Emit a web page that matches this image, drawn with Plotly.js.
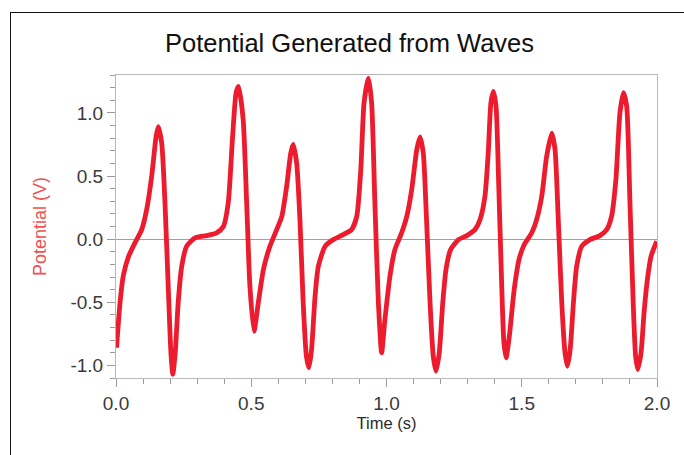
<!DOCTYPE html>
<html>
<head>
<meta charset="utf-8">
<script src="https://cdn.plot.ly/plotly-3.0.1.min.js"></script>
<style>
  html, body { margin:0; padding:0; width:684px; height:455px; overflow:hidden; background:#fff; }
  #chart { width:684px; height:455px; }
  #frame { position:absolute; left:10px; top:12px; width:720px; height:500px; border-left:1.5px solid #111; border-top:1.5px solid #111; pointer-events:none; }
</style>
</head>
<body>
<div id="chart"></div>
<div id="frame"></div>
<script>
// Time (s)
const time = [
  0.002, 0.015, 0.027, 0.046, 0.070, 0.095, 0.113, 0.132, 0.148, 0.156, 0.169, 0.181, 0.193, 0.203, 0.210,
  0.219, 0.230, 0.243, 0.261, 0.292, 0.335, 0.372, 0.397, 0.415, 0.431, 0.444, 0.453,
  0.470, 0.483, 0.495, 0.510, 0.526, 0.545, 0.569, 0.594, 0.613, 0.631, 0.646, 0.655,
  0.668, 0.680, 0.692, 0.704, 0.713, 0.723, 0.736, 0.748, 0.773, 0.803, 0.840, 0.871,
  0.890, 0.905, 0.917, 0.933, 0.945, 0.957, 0.970, 0.982,
  0.994, 1.013, 1.031, 1.056, 1.075, 1.093, 1.112, 1.124, 1.136, 1.148, 1.161, 1.173, 1.183,
  1.195, 1.208, 1.220, 1.237, 1.266, 1.297, 1.327, 1.346, 1.364, 1.376, 1.386, 1.395,
  1.405, 1.415, 1.426, 1.434, 1.442, 1.454, 1.472, 1.490, 1.509,
  1.537, 1.555, 1.574, 1.592, 1.611, 1.623, 1.635, 1.648, 1.660, 1.669,
  1.679, 1.691, 1.703, 1.722, 1.752, 1.789, 1.814, 1.832, 1.848, 1.863, 1.876,
  1.888, 1.900, 1.912, 1.921, 1.929, 1.941, 1.953, 1.966, 1.978, 1.999
];
// Potential (V)
const potential = [
  -0.86, -0.50, -0.29, -0.14, -0.03, 0.075, 0.23, 0.50, 0.81, 0.89, 0.76, 0.29, -0.37, -0.90, -1.07,
  -0.90, -0.50, -0.215, -0.057, 0.01, 0.028, 0.05, 0.10, 0.29, 0.81, 1.16, 1.21,
  0.95, 0.29, -0.37, -0.73, -0.505, -0.24, -0.057, 0.075, 0.18, 0.42, 0.68, 0.75,
  0.60, 0.155, -0.505, -0.93, -1.02, -0.875, -0.45, -0.215, -0.057, -0.004, 0.036, 0.075,
  0.18, 0.55, 1.08, 1.276, 1.08, 0.29, -0.505, -0.90,
  -0.64, -0.29, -0.083, 0.05, 0.18, 0.39, 0.71, 0.81, 0.68, 0.155, -0.505, -0.93, -1.047,
  -0.90, -0.505, -0.24, -0.083, -0.004, 0.028, 0.075, 0.155, 0.34, 0.68, 1.08, 1.17,
  1.05, 0.42, -0.37, -0.82, -0.94, -0.77, -0.40, -0.16, -0.045,
  0.05, 0.155, 0.34, 0.655, 0.84, 0.71, 0.155, -0.505, -0.90, -1.007,
  -0.875, -0.505, -0.215, -0.057, -0.004, 0.028, 0.075, 0.18, 0.47, 1.0, 1.16,
  1.05, 0.29, -0.505, -0.93, -1.033, -0.90, -0.56, -0.295, -0.136, -0.017
];
const xTickVals = [0, 0.5, 1.0, 1.5, 2.0];
const xTickText = ['0.0', '0.5', '1.0', '1.5', '2.0'];
const yTickVals = [-1.0, -0.5, 0.0, 0.5, 1.0];
const yTickText = ['-1.0', '-0.5', '0.0', '0.5', '1.0'];

const trace = {
  x: time, y: potential, type: 'scatter', mode: 'lines',
  line: { color: '#ec1c2e', width: 4.8, shape: 'spline', smoothing: 0.6 },
  hoverinfo: 'skip'
};

const FONT = 'Liberation Sans, Arial, sans-serif';
const axisCommon = {
  showgrid: false,
  showline: true, linecolor: '#b8b8b8', linewidth: 1, mirror: true,
  ticks: 'outside', ticklen: 8, tickcolor: '#9a9a9a', tickwidth: 1,
  tickfont: { family: FONT, size: 19, color: '#3a3a3a' },
  minor: { ticks: 'outside', ticklen: 5, tickcolor: '#9a9a9a', dtick: 0.1, showgrid: false },
  tickmode: 'array'
};

const layout = {
  width: 684, height: 455,
  margin: { l: 116, r: 27, t: 75, b: 77 },
  paper_bgcolor: '#fff', plot_bgcolor: '#fff',
  showlegend: false,
  title: {
    text: 'Potential Generated from Waves',
    font: { family: FONT, size: 25.5, color: '#111' },
    x: 0.511, xanchor: 'center', xref: 'container',
    y: 0.905, yanchor: 'middle', yref: 'container'
  },
  xaxis: Object.assign({}, axisCommon, {
    range: [0, 2.0], tickvals: xTickVals, ticktext: xTickText,
    zeroline: false,
    title: { text: 'Time (s)', standoff: 4,
      font: { family: FONT, size: 16.5, color: '#2a2a2a' } }
  }),
  yaxis: Object.assign({}, axisCommon, {
    range: [-1.10, 1.30], tickvals: yTickVals, ticktext: yTickText,
    zeroline: true, zerolinecolor: '#a0a0a0', zerolinewidth: 1,
    title: { text: 'Potential (V)', standoff: 19,
      font: { family: FONT, size: 18, color: '#f05050' } }
  })
};

Plotly.newPlot('chart', [trace], layout, { staticPlot: true, displayModeBar: false });
</script>
</body>
</html>
